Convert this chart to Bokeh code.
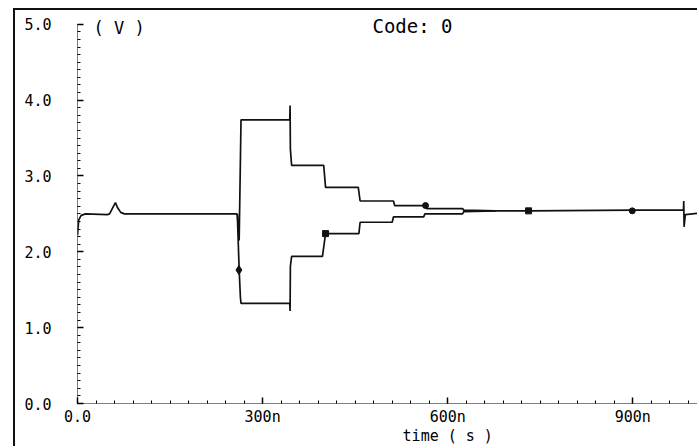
from bokeh.plotting import figure
from bokeh.models import Range1d, FixedTicker, Label, ColumnDataSource
from bokeh.embed import file_html
from bokeh.resources import INLINE

# ---- data (time in ns, voltage in V) ----
t_start = [0, 2, 6, 13, 48, 52, 57, 61.5, 65, 70, 76, 259]
v_start = [2.22, 2.42, 2.48, 2.50, 2.49, 2.50, 2.58, 2.65, 2.58, 2.52, 2.50, 2.50]

t_upper = [259, 262, 265, 344, 344.5, 345, 347, 399, 402, 455, 458, 512, 514, 564, 566, 624, 626, 678]
v_upper = [2.50, 2.15, 3.74, 3.74, 3.93, 3.35, 3.14, 3.14, 2.85, 2.85, 2.67, 2.67, 2.61, 2.61, 2.57, 2.57, 2.55, 2.54]

t_lower = [259, 261, 262, 264, 265, 344, 344.5, 345, 347, 397, 402, 456, 458, 510, 512, 561, 563, 624, 626, 678]
v_lower = [2.50, 2.00, 1.76, 1.40, 1.32, 1.32, 1.22, 1.81, 1.94, 1.94, 2.24, 2.24, 2.39, 2.39, 2.46, 2.46, 2.50, 2.50, 2.53, 2.54]

t_end = [678, 732, 900, 982, 982.5, 983, 985, 1008]
v_end = [2.54, 2.54, 2.55, 2.55, 2.67, 2.33, 2.49, 2.51]

mark_t = [261.6, 402, 564, 731, 899]
mark_v = [1.76, 2.24, 2.61, 2.54, 2.54]
mark_shape = ["diamond", "square", "circle", "square", "circle"]
mark_size = [9, 6, 6, 6, 6]

x_tick_vals = [0, 300, 600, 900]
x_tick_labels = ["0.0", "300n", "600n", "900n"]
y_tick_vals = [0, 1, 2, 3, 4, 5]
y_tick_labels = ["0.0", "1.0", "2.0", "3.0", "4.0", "5.0"]

title_text = "Code: 0"
y_label_text = "( V )"
x_label_text = "time ( s )"

FONT = "DejaVu Sans Mono"
INK = "#111111"

p = figure(width=684, height=438, x_range=Range1d(0, 1008), y_range=Range1d(0, 5.182),
           output_backend="svg", toolbar_location=None,
           min_border_left=62, min_border_right=0, min_border_top=0, min_border_bottom=40,
           styles={"margin-left": "13px", "margin-top": "8px",
                   "border-left": "2px solid #111", "border-top": "2px solid #111"})
p.grid.visible = False
p.outline_line_color = None
p.background_fill_color = "white"
p.border_fill_color = "white"

# axes
x_labels = list(x_tick_labels)
x_labels[2] = x_labels[2] + "\n" + x_label_text   # axis title sits under the 600n label
p.xaxis.ticker = FixedTicker(ticks=x_tick_vals, minor_ticks=[30 * i for i in range(34)])
p.xaxis.major_label_overrides = dict(zip(x_tick_vals, x_labels))
p.yaxis.ticker = FixedTicker(ticks=y_tick_vals, minor_ticks=[0.1 * i for i in range(51)])
p.yaxis.major_label_overrides = dict(zip(y_tick_vals, y_tick_labels))
p.yaxis.bounds = (0, 5)
p.xaxis.bounds = (0, 1008)
for ax in (p.xaxis, p.yaxis):
    ax.axis_line_color = "black"
    ax.axis_line_width = 1
    ax.axis_line_dash = "1 1"
    ax.major_tick_in = 6
    ax.major_tick_out = 0
    ax.major_tick_line_width = 1.5
    ax.major_tick_line_color = "black"
    ax.minor_tick_in = 3
    ax.minor_tick_out = 0
    ax.minor_tick_line_color = "black"
    ax.major_label_text_font = FONT
    ax.major_label_text_color = "black"
p.xaxis.major_label_text_font_size = "15px"
p.xaxis.major_label_standoff = 4
p.xaxis.major_label_text_line_height = 1.1
p.yaxis.major_label_text_font_size = "15px"
p.yaxis.major_label_standoff = 26
p.yaxis.major_label_text_baseline = "alphabetic"

# traces
for tt, vv in ((t_start, v_start), (t_upper, v_upper), (t_lower, v_lower), (t_end, v_end)):
    p.line(tt, vv, line_color=INK, line_width=1.7)

msrc = ColumnDataSource(dict(t=mark_t, v=mark_v, m=mark_shape, s=mark_size))
p.scatter("t", "v", marker="m", size="s", source=msrc, fill_color=INK, line_color=INK)

# texts
p.add_layout(Label(x=478, y=4.974, text=title_text, text_font=FONT, text_font_size="19px",
                   text_color="black", text_baseline="alphabetic", text_align="left"))
p.add_layout(Label(x=26, y=4.95, text=y_label_text, text_font=FONT, text_font_size="17px",
                   text_color="black", text_baseline="alphabetic", text_align="left"))

open("out.html", "w").write(file_html(p, INLINE))
